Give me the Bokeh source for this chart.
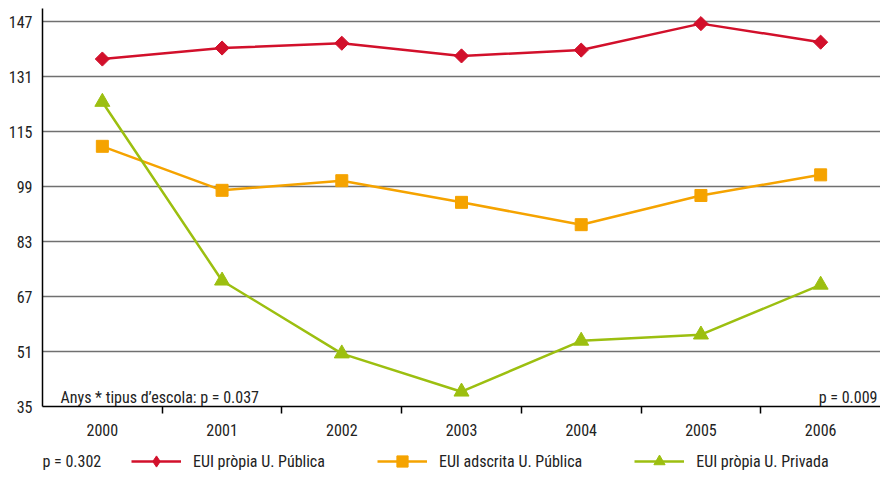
import numpy as np
from bokeh.plotting import figure
from bokeh.layouts import column
from bokeh.models import Range1d, FixedTicker, Legend, LegendItem, Label
from bokeh.embed import file_html
from bokeh.resources import INLINE

years = [2000, 2001, 2002, 2003, 2004, 2005, 2006]
eui_propia_publica = [136.1, 139.3, 140.7, 137.0, 138.7, 146.4, 141.0]
eui_adscrita_publica = [110.7, 97.9, 100.7, 94.4, 87.9, 96.4, 102.4]
eui_propia_privada = [123.6, 71.6, 50.4, 39.3, 54.1, 55.9, 70.4]
y_ticks = [35, 51, 67, 83, 99, 115, 131, 147]
series_labels = ["EUI pròpia U. Pública", "EUI adscrita U. Pública", "EUI pròpia U. Privada"]
note_left = "Anys * tipus d’escola: p = 0.037"
note_right = "p = 0.009"
note_legend = "p = 0.302"

FONT = "'Roboto Condensed', Roboto"
FS = "16px"
TXT = "#222222"

p = figure(width=880, height=440, output_backend="svg", toolbar_location=None,
           x_range=Range1d(years[0] - 0.5, years[-1] + 0.5),
           y_range=Range1d(y_ticks[0], y_ticks[-1] + 3.8),
           min_border_left=42, min_border_right=0, min_border_top=8, min_border_bottom=34)
p.outline_line_color = None
p.background_fill_color = "white"

# grid
p.xgrid.visible = False
p.ygrid.ticker = FixedTicker(ticks=y_ticks)
p.ygrid.grid_line_color = "#707070"
p.ygrid.grid_line_width = 1.5

# y axis
p.yaxis.ticker = FixedTicker(ticks=y_ticks)
p.yaxis.major_tick_out = 0
p.yaxis.major_tick_in = 0
p.yaxis.minor_tick_out = 0
p.yaxis.minor_tick_in = 0
p.yaxis.axis_line_color = "black"
p.yaxis.axis_line_width = 1.5
p.yaxis.major_label_standoff = 10
p.yaxis.major_label_text_font = FONT
p.yaxis.major_label_text_font_size = FS
p.yaxis.major_label_text_color = TXT

# x axis
p.xaxis.ticker = FixedTicker(ticks=years, minor_ticks=[y + 0.5 for y in years[:-1]])
p.xaxis.major_tick_out = 0
p.xaxis.major_tick_in = 0
p.xaxis.minor_tick_out = 7
p.xaxis.minor_tick_in = 0
p.xaxis.minor_tick_line_color = "black"
p.xaxis.minor_tick_line_width = 1.5
p.xaxis.axis_line_color = "black"
p.xaxis.axis_line_width = 1.5
p.xaxis.major_label_standoff = 10
p.xaxis.major_label_text_font = FONT
p.xaxis.major_label_text_font_size = FS
p.xaxis.major_label_text_color = TXT

series = [
    (eui_propia_publica, "#d2102b", "square", 10, np.pi / 4, "diamond"),
    (eui_adscrita_publica, "#f5a300", "square", 12, 0, "square"),
    (eui_propia_privada, "#9cbf10", "triangle", 15, 0, "triangle"),
]
for vals, col, mk, sz, ang, _ in series:
    p.line(years, vals, line_color=col, line_width=2.5)
    p.scatter(years, vals, marker=mk, size=sz, angle=ang,
              fill_color=col, line_color=col)

p.add_layout(Label(x=years[0] - 0.5, y=y_ticks[0], x_offset=18, y_offset=9,
                   text=note_left, text_font=FONT, text_font_size=FS,
                   text_color=TXT, text_baseline="alphabetic"))
p.add_layout(Label(x=years[-1] + 0.5, y=y_ticks[0], x_offset=-3, y_offset=9,
                   text=note_right, text_font=FONT, text_font_size=FS,
                   text_color=TXT, text_baseline="alphabetic", text_align="right"))

# legend strip (its frame is aligned with the main frame by the column layout)
lg = figure(width=880, height=35, output_backend="svg", toolbar_location=None,
            x_range=Range1d(0, 1), y_range=Range1d(0, 1),
            x_axis_type=None, y_axis_type=None,
            min_border_left=0, min_border_right=0, min_border_top=0, min_border_bottom=0)
lg.outline_line_color = None
lg.xgrid.visible = False
lg.ygrid.visible = False
items = []
for (vals, col, mk, sz, ang, lmk), lab in zip(series, series_labels):
    # same series, outside this strip's visible range: used only for legend swatches
    ln = lg.line(years, vals, line_color=col, line_width=2.5)
    sc = lg.scatter(years, vals, marker=lmk, size=sz,
                    fill_color=col, line_color=col)
    items.append(LegendItem(label=lab, renderers=[ln, sc]))

legend = Legend(items=items, orientation="horizontal", location=(89, 0),
                label_text_font=FONT, label_text_font_size=FS, label_text_color=TXT,
                glyph_width=50, glyph_height=28, label_standoff=12, spacing=52,
                padding=0, margin=0, border_line_color=None,
                background_fill_alpha=0)
lg.add_layout(legend)
lg.add_layout(Label(x=0, y=14, x_units="screen", y_units="screen",
                    text=note_legend, text_font=FONT, text_font_size=FS,
                    text_color=TXT, text_baseline="middle"))

layout = column(p, lg, spacing=0)
open("out.html", "w").write(file_html(layout, INLINE))
